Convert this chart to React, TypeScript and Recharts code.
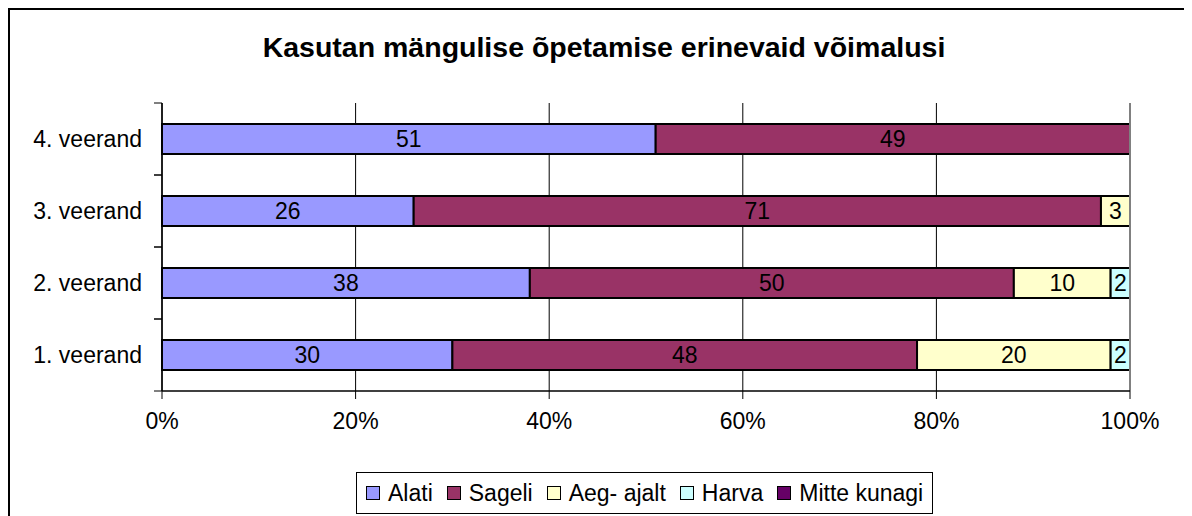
import { BarChart, Bar, XAxis, YAxis, CartesianGrid, LabelList, Legend, ReferenceLine } from 'recharts';

const categories = ['1. veerand', '2. veerand', '3. veerand', '4. veerand'];
const alati = [30, 38, 26, 51];
const sageli = [48, 50, 71, 49];
const aegAjalt = [20, 10, 3, null];
const harva = [2, 2, null, null];
const mitteKunagi = [null, null, null, null];

const seriesNames = ['Alati', 'Sageli', 'Aeg- ajalt', 'Harva', 'Mitte kunagi'];
const seriesKeys = ['alati', 'sageli', 'aegAjalt', 'harva', 'mitteKunagi'];
const seriesColors = ['#9999FF', '#993366', '#FFFFCC', '#CCFFFF', '#660066'];
const xTicks = [0, 20, 40, 60, 80, 100];

const title = 'Kasutan mängulise õpetamise erinevaid võimalusi';
const font = '"Liberation Sans", Arial, sans-serif';

const data = categories.map((name, i) => ({
  name,
  alati: alati[i],
  sageli: sageli[i],
  aegAjalt: aegAjalt[i],
  harva: harva[i],
  mitteKunagi: mitteKunagi[i],
}));

const CategoryTick = (props: any) => {
  const { x, y, payload } = props;
  const half = payload.offset || 36;
  return (
    <g>
      <text x={x - 20} y={y} dy={8} textAnchor="end" fontSize={23} fontFamily={font} fill="#000">
        {payload.value}
      </text>
      <line x1={x - 8} x2={x} y1={y - half} y2={y - half} stroke="#000" />
      <line x1={x - 8} x2={x} y1={y + half} y2={y + half} stroke="#000" />
    </g>
  );
};

const LegendBox = () => (
  <div
    style={{
      border: '1px solid #000',
      height: 42,
      boxSizing: 'border-box',
      display: 'flex',
      alignItems: 'center',
      padding: '0 9px',
      fontFamily: font,
      fontSize: 23,
      color: '#000',
      whiteSpace: 'nowrap',
    }}
  >
    {seriesNames.map((n, i) => (
      <span key={n} style={{ display: 'flex', alignItems: 'center', marginRight: i < seriesNames.length - 1 ? 14 : 0 }}>
        <span
          style={{
            width: 12,
            height: 12,
            border: '1px solid #000',
            background: seriesColors[i],
            marginRight: 8,
            display: 'inline-block',
          }}
        />
        {n}
      </span>
    ))}
  </div>
);

const fmt = (v: any) => (v ? v : '');

export default function App() {
  return (
    <div style={{ position: 'relative', width: 1184, height: 508, overflow: 'hidden', background: '#fff' }}>
      <div
        style={{
          position: 'absolute',
          left: 0,
          top: 0,
          width: 3000,
          height: 3000,
          borderLeft: '2px solid #000',
          borderTop: '2px solid #000',
        }}
      />
      <div
        style={{
          position: 'absolute',
          left: 0,
          top: 23,
          width: 1192,
          textAlign: 'center',
          fontFamily: font,
          fontWeight: 'bold',
          fontSize: 28.5,
          lineHeight: '32px',
          color: '#000',
        }}
      >
        {title}
      </div>
      <div style={{ position: 'absolute', left: 0, top: 0 }}>
        <BarChart
          width={1184}
          height={508}
          data={data}
          layout="vertical"
          margin={{ top: 95, right: 62, left: 0, bottom: 85 }}
          barSize={30}
        >
          <CartesianGrid horizontal={false} vertical stroke="#000" strokeWidth={1} />
          <XAxis
            type="number"
            domain={[0, 100]}
            ticks={xTicks}
            tickFormatter={(v: number) => `${v}%`}
            tickSize={8}
            tickMargin={14}
            height={40}
            axisLine={{ stroke: '#000', strokeWidth: 1.5 }}
            tickLine={{ stroke: '#000' }}
            tick={{ fontSize: 23, fontFamily: font, fill: '#000' }}
            interval={0}
          />
          <XAxis
            xAxisId="top"
            orientation="top"
            type="number"
            domain={[0, 100]}
            height={0}
            tick={false}
            tickLine={false}
            axisLine={{ stroke: '#808080', strokeWidth: 2 }}
          />
          <YAxis
            type="category"
            dataKey="name"
            reversed
            width={154}
            tickSize={0}
            tickMargin={0}
            tickLine={false}
            axisLine={{ stroke: '#000', strokeWidth: 1.5 }}
            tick={<CategoryTick />}
            interval={0}
          />
          <ReferenceLine x={100} stroke="#808080" strokeWidth={2} />
          <Legend
            layout="horizontal"
            verticalAlign="middle"
            align="center"
            wrapperStyle={{ left: 348, top: 464, width: 'auto' }}
            content={() => <LegendBox />}
          />
          {seriesKeys.slice(0, 4).map((k, i) => (
            <Bar
              key={k}
              dataKey={k}
              name={seriesNames[i]}
              stackId="a"
              fill={seriesColors[i]}
              stroke="#000"
              strokeWidth={2}
              isAnimationActive={false}
            >
              <LabelList
                dataKey={k}
                position="center"
                formatter={fmt}
                fill="#000"
                fontSize={23}
                fontFamily={font}
              />
            </Bar>
          ))}
        </BarChart>
      </div>
    </div>
  );
}
